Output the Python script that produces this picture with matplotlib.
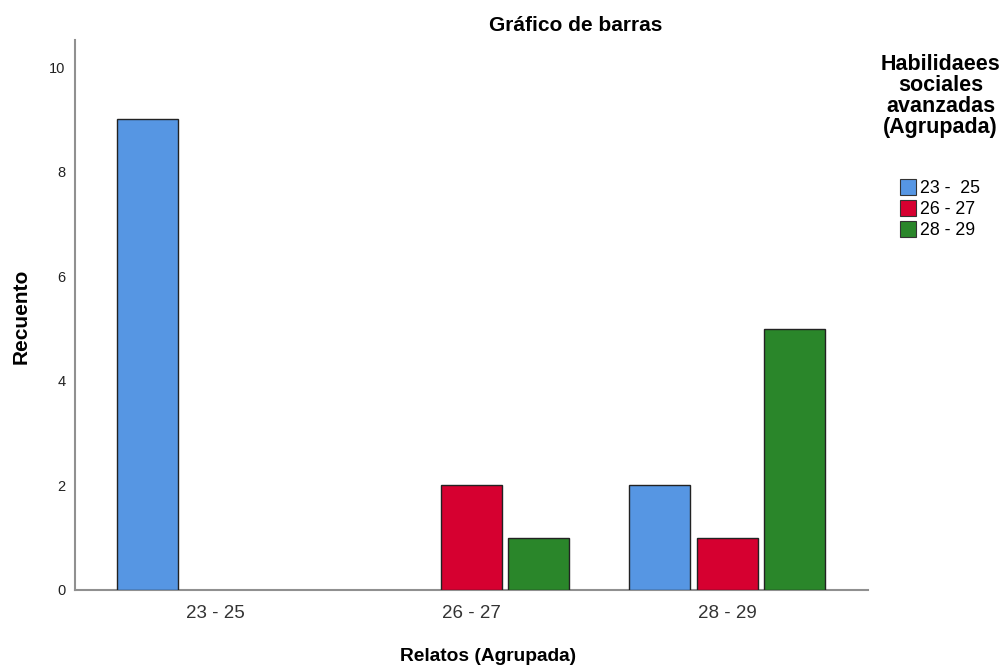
import matplotlib
matplotlib.use("Agg")
import matplotlib.pyplot as plt
from matplotlib.patches import Patch
import numpy as np

categories = ["23 - 25", "26 - 27", "28 - 29"]
series_names = ["23 -  25", "26 - 27", "28 - 29"]
series_values = {
    "23 -  25": [9, 0, 2],
    "26 - 27": [0, 2, 1],
    "28 - 29": [0, 1, 5],
}
colors = ["#5696E3", "#D60030", "#2A862A"]
yticks = [0, 2, 4, 6, 8, 10]

plt.rcParams['font.family'] = ['Liberation Sans', 'DejaVu Sans']

fig = plt.figure(figsize=(10.04, 6.65), dpi=100)
ax = fig.add_axes([0.0747, 0.1128, 0.79, 0.827])

x = np.arange(len(categories))
step = 0.263
width = 0.238
for i, name in enumerate(series_names):
    vals = np.array(series_values[name], dtype=float)
    xs = x + (i - 1) * step
    mask = vals > 0
    ax.bar(xs[mask], vals[mask], width=width, color=colors[i],
           edgecolor="#222222", linewidth=1.0, zorder=3)

ax.set_xlim(-0.547, 2.551)
ax.set_ylim(0, 10.52)
ax.set_xticks(x)
ax.set_xticklabels(categories, fontsize=13.5, color="#333333")
ax.set_yticks(yticks)
ax.set_yticklabels([str(t) for t in yticks], fontsize=10.5, color="#222222")
ax.tick_params(axis='both', length=0)
ax.tick_params(axis='x', pad=11)
ax.tick_params(axis='y', pad=7)
for s in ["top", "right"]:
    ax.spines[s].set_visible(False)
for s in ["left", "bottom"]:
    ax.spines[s].set_color("#909090")
    ax.spines[s].set_linewidth(1.5)

fig.text(0.573, 0.962, "Gráfico de barras", ha="center", va="center",
         fontsize=15, fontweight="bold")
fig.text(0.021, 0.525, "Recuento", ha="center", va="center", rotation=90,
         fontsize=15, fontweight="bold")
fig.text(0.486, 0.013, "Relatos (Agrupada)", ha="center", va="center",
         fontsize=13.8, fontweight="bold")

handles = [Patch(facecolor=c, edgecolor="#333333", linewidth=0.8) for c in colors]
leg = fig.legend(handles, series_names, loc="upper left",
                 bbox_to_anchor=(0.889, 0.741), frameon=False, fontsize=12.8,
                 handlelength=0.9, handleheight=1.0, handletextpad=0.25,
                 labelspacing=0.16, borderaxespad=0)
fig.text(0.937, 0.855, "Habilidaees\nsociales\navanzadas\n(Agrupada)",
         ha="center", va="center", fontsize=15.5, fontweight="bold",
         linespacing=1.0)

fig.savefig("out.png", dpi=100)
